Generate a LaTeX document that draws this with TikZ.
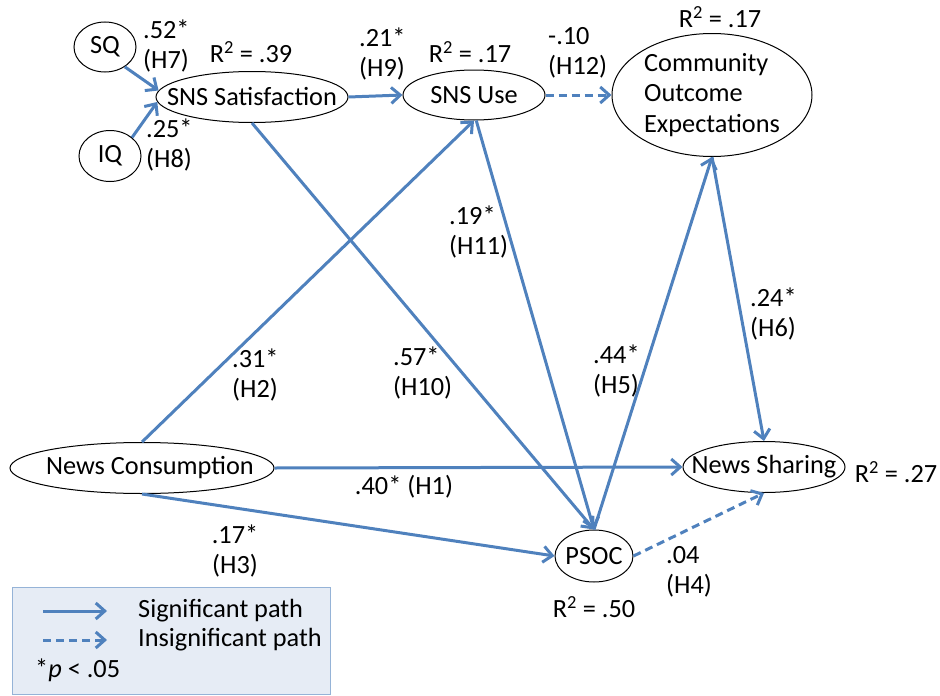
\documentclass[tikz,border=0pt]{standalone}
\usepackage{fontspec}
\setmainfont{Carlito}
\usetikzlibrary{shapes.geometric,arrows.meta}
\definecolor{pathblue}{RGB}{79,129,189}
\definecolor{legfill}{RGB}{230,236,245}
\definecolor{legdraw}{RGB}{149,179,215}
\begin{document}
\begin{tikzpicture}[x=1pt,y=-1pt,
  every node/.style={font=\fontsize{26.3}{30.5}\selectfont},
  ell/.style={ellipse, draw=black, line width=1pt, fill=white, inner xsep=-22pt, inner ysep=-10pt},
  lbl/.style={align=left, anchor=west, inner sep=0pt},
  rlbl/.style={inner sep=0pt},
  sig/.style={draw=pathblue, line width=3pt, -{Straight Barb[length=9pt,width=16pt]}},
  insig/.style={sig, dash pattern=on 8pt off 5pt},
]
\useasboundingbox (0,0) rectangle (940,696);
% nodes
\node[ell, minimum width=62, minimum height=50] (sq) at (105,47) {SQ};
\node[ell, minimum width=62, minimum height=51] (iq) at (110,156) {IQ};
\node[ell, minimum width=192, minimum height=51] (sat) at (252,97) {SNS Satisfaction};
\node[ell, minimum width=142, minimum height=50] (use) at (474,95) {SNS Use};
\node[ell, minimum width=200, minimum height=123, align=left] (coe) at (712,95) {Community\\Outcome\\Expectations};
\node[ell, minimum width=264, minimum height=51] (nc) at (142,468) {\hspace*{16pt}News Consumption};
\node[ell, minimum width=162, minimum height=51] (ns) at (764,467) {News Sharing};
\node[ell, minimum width=78, minimum height=52] (psoc) at (594,556) {PSOC};
% paths
\draw[sig] (sq.-45) -- (sat.176);
\draw[sig] (iq.40) -- (sat.183);
\draw[sig] (sat.east) -- (use.west);
\draw[insig] (use.east) -- (coe.west);
\draw[sig] (sat.south) -- (psoc.north);
\draw[sig] (nc.north) -- (use.south);
\draw[sig] (use.-85) -- (psoc.north);
\draw[sig] (psoc.north) -- (coe.south);
\draw[sig] (coe.south) -- (ns.north);
\draw[sig] (nc.east) -- (ns.west);
\draw[sig] (nc.south) -- (psoc.west);
\draw[insig] (psoc.east) -- (ns.south);
% labels
\node[lbl] (h7) at (143,46) {.52*\\(H7)};
\node[lbl] (h8) at (146,145) {.25*\\(H8)};
\node[rlbl] (r39) at (251,52) {R\textsuperscript{2} = .39};
\node[lbl] (h9) at (359,54) {.21*\\(H9)};
\node[rlbl] (r17a) at (470,52) {R\textsuperscript{2} = .17};
\node[lbl] (h12) at (548,53) {-.10\\(H12)};
\node[rlbl] (r17b) at (720,17) {R\textsuperscript{2} = .17};
\node[lbl] (h11) at (449,232) {.19*\\(H11)};
\node[lbl] (h2) at (232,375) {.31*\\(H2)};
\node[lbl] (h10) at (393,373) {.57*\\(H10)};
\node[lbl] (h5) at (593,371) {.44*\\(H5)};
\node[lbl] (h6) at (750,314) {.24*\\(H6)};
\node[rlbl] (h1) at (404,487) {.40* (H1)};
\node[rlbl, align=center] (h3) at (235,551) {.17*\\(H3)};
\node[rlbl] (r27) at (896,472) {R\textsuperscript{2} = .27};
\node[lbl] (h4) at (666,572) {.04\\(H4)};
\node[rlbl] (r50) at (594,607) {R\textsuperscript{2} = .50};
% legend
\node[draw=legdraw, fill=legfill, line width=1.2pt, anchor=north west, minimum width=318, minimum height=107, inner sep=0pt] (legend) at (12,587) {};
\coordinate (s1) at (43,611);
\coordinate (s2) at (107,611);
\coordinate (d1) at (43,640);
\coordinate (d2) at (107,640);
\draw[sig] (s1) -- (s2);
\draw[insig] (d1) -- (d2);
\node[lbl] (sigt) at (138,611) {Significant path};
\node[lbl] (insigt) at (138,640) {Insignificant path};
\node[lbl] (ptxt) at (35,670) {*\textit{p} < .05};
\end{tikzpicture}
\end{document}
